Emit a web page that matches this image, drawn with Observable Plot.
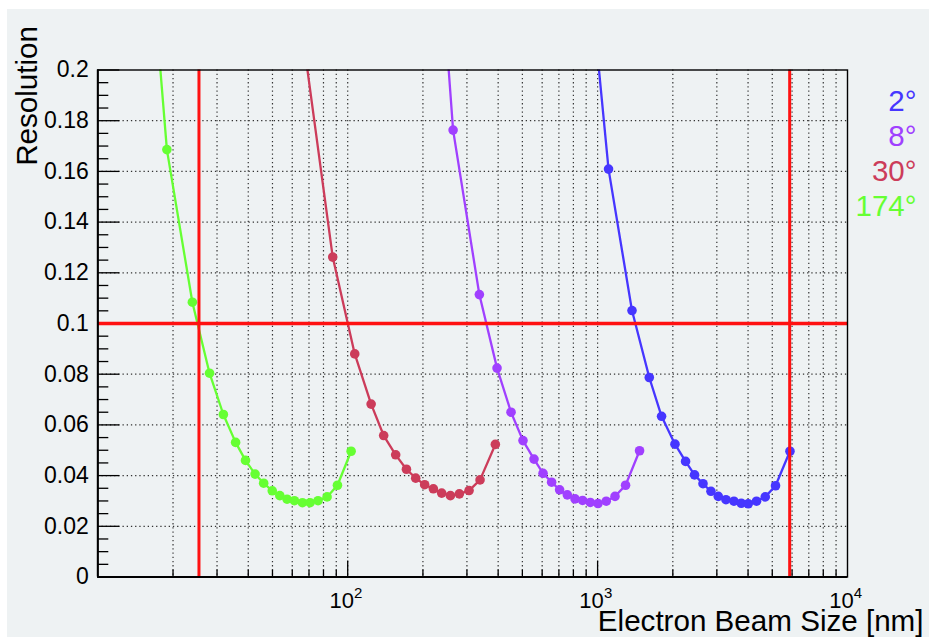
<!DOCTYPE html>
<html><head><meta charset="utf-8">
<script src="https://cdn.jsdelivr.net/npm/d3@7"></script>
<script src="https://cdn.jsdelivr.net/npm/@observablehq/plot@0.6"></script>
<style>
html,body{margin:0;padding:0;background:#fff;}
#wrap{position:relative;width:929px;height:637px;overflow:hidden;}
#bg{position:absolute;left:7px;top:9px;right:0;bottom:0;background:#eef2f3;}
#chart{position:absolute;left:0;top:0;}
</style></head><body>
<div id="wrap"><div id="bg"></div><div id="chart"></div></div>
<script>
// ---- data ----
const seriesNames = ["2°", "8°", "30°", "174°"];
const seriesColors = ["#4636ff", "#a040ff", "#cc3c5a", "#66ff33"];

const size2 = [877, 1106, 1373, 1610, 1803, 2040, 2249, 2443, 2641, 2842, 3040, 3263, 3512, 3757, 4007, 4325, 4687, 5152, 5885];
const res2  = [0.264, 0.1609, 0.1051, 0.0787, 0.0634, 0.0524, 0.0456, 0.0403, 0.0368, 0.0338, 0.0318, 0.0305, 0.0299, 0.0291, 0.0289, 0.0299, 0.0316, 0.0360, 0.0496];

const size8 = [210, 264.1, 336.4, 395.9, 450.4, 502.9, 556.6, 604.9, 654.6, 704.7, 756.4, 812.2, 871, 935, 1003.7, 1083, 1174, 1294, 1472];
const res8  = [0.31, 0.1763, 0.1114, 0.0824, 0.0650, 0.0538, 0.0465, 0.0409, 0.0374, 0.0344, 0.0324, 0.0308, 0.0302, 0.0294, 0.0290, 0.0299, 0.0318, 0.0362, 0.0498];

const size30 = [65, 87.1, 106.7, 124.1, 139.3, 155.6, 171.8, 187.1, 203.2, 220.2, 237.7, 257.6, 279.8, 305.9, 338.5, 389.8];
const res30  = [0.219, 0.1262, 0.0880, 0.0682, 0.0558, 0.0482, 0.0425, 0.0390, 0.0364, 0.0348, 0.0331, 0.0321, 0.0328, 0.0341, 0.0383, 0.0523];

const size174 = [15, 18.9, 23.9, 28.0, 31.8, 35.6, 39.0, 42.6, 46.1, 49.9, 53.5, 57.2, 61.2, 65.9, 70.7, 76.1, 82.7, 91.0, 103.2];
const res174  = [0.29, 0.1686, 0.1084, 0.0804, 0.0641, 0.0531, 0.0460, 0.0406, 0.0370, 0.0340, 0.0321, 0.0307, 0.0301, 0.0293, 0.0293, 0.0301, 0.0316, 0.0362, 0.0496];

const refX = [25.4, 5870];
const refY = [0.1];

const yTickValues = [0, 0.02, 0.04, 0.06, 0.08, 0.1, 0.12, 0.14, 0.16, 0.18, 0.2];
const yTickLabels = ["0", "0.02", "0.04", "0.06", "0.08", "0.1", "0.12", "0.14", "0.16", "0.18", "0.2"];
const xLabelValues = [100, 1000, 10000];
const xLabelBase = ["10", "10", "10"];
const xLabelExp = ["2", "3", "4"];
const xTitle = "Electron Beam Size [nm]";
const yTitle = "Resolution";

// ---- build table ----
const seriesData = [[size2, res2], [size8, res8], [size30, res30], [size174, res174]];
const rows = [];
seriesData.forEach(([s, r], i) => s.forEach((v, j) => rows.push({series: seriesNames[i], size: v, res: r[j]})));

const W = 929, H = 637, mL = 97.3, mR = 82, mT = 69.5, mB = 60.5;
const fw = W - mL - mR, fh = H - mT - mB;
const xGrid = d3.scaleLog().domain([10, 10000]).ticks().filter(d => d > 10 && d < 10000);
const xMajor = [100, 1000];
const xMinor = xGrid.filter(d => !xMajor.includes(d));
const yGrid = yTickValues.filter(d => d > 0 && d < 0.2);
const yMinor = d3.range(1, 40).filter(i => i % 4 !== 0).map(i => i * 0.005);

const font = "'Liberation Sans', Arial, Helvetica, sans-serif";
const gridStyle = {stroke: "#333", strokeDasharray: "1.3,2.9", strokeWidth: 1.2};

const chart = Plot.plot({
  width: W, height: H,
  marginLeft: mL, marginRight: mR, marginTop: mT, marginBottom: mB,
  style: {background: "transparent", fontFamily: font, overflow: "visible"},
  x: {type: "log", domain: [10, 10000], axis: null},
  y: {domain: [0, 0.2], axis: null},
  color: {domain: seriesNames, range: seriesColors},
  marks: [
    Plot.ruleX(xGrid, {x: d => d, ...gridStyle}),
    Plot.ruleY(yGrid, {y: d => d, ...gridStyle}),
    Plot.tickY(yMinor, {y: d => d, insetRight: fw - 11, stroke: "#000", strokeWidth: 1.3}),
    Plot.tickY(yTickValues, {y: d => d, insetRight: fw - 22, stroke: "#000", strokeWidth: 1.3}),
    Plot.tickX(xMinor, {x: d => d, insetTop: fh - 7, stroke: "#000", strokeWidth: 1.3}),
    Plot.tickX(xMajor, {x: d => d, insetTop: fh - 16, stroke: "#000", strokeWidth: 1.3}),
    Plot.line(rows, {x: "size", y: "res", z: "series", stroke: "series", strokeWidth: 2.3, clip: true}),
    Plot.dot(rows, {x: "size", y: "res", fill: "series", r: 4.8, clip: true}),
    Plot.ruleX(refX, {x: d => d, stroke: "#ff1111", strokeWidth: 3}),
    Plot.ruleY(refY, {y: d => d, stroke: "#ff1111", strokeWidth: 3.3}),
    Plot.frame({stroke: "#000", strokeWidth: 1.4}),
    Plot.ruleX([10], {x: d => d, stroke: "#000", strokeWidth: 2}),
    Plot.ruleY([0], {y: d => d, stroke: "#000", strokeWidth: 2}),
    Plot.text(yTickValues, {y: d => d, frameAnchor: "left", text: (d, i) => yTickLabels[i], textAnchor: "end", lineAnchor: "middle", dx: -9, fontSize: 23, fill: "#000"}),
    Plot.text(xLabelValues, {x: d => d, frameAnchor: "bottom", text: (d, i) => xLabelBase[i], textAnchor: "middle", lineAnchor: "middle", dx: -6, dy: 23.5, fontSize: 22, fill: "#000"}),
    Plot.text(xLabelValues, {x: d => d, frameAnchor: "bottom", text: (d, i) => xLabelExp[i], textAnchor: "middle", lineAnchor: "middle", dx: 10.5, dy: 16, fontSize: 15, fill: "#000"}),
    Plot.text([xTitle], {frameAnchor: "bottom-right", text: d => d, textAnchor: "end", lineAnchor: "bottom", dx: 76, dy: 54, fontSize: 29.6, fill: "#000"}),
    Plot.text([yTitle], {frameAnchor: "top-left", text: d => d, rotate: -90, textAnchor: "end", lineAnchor: "middle", dx: -70.3, dy: -44, fontSize: 29.6, fill: "#000"}),
    ...seriesNames.map((n, i) => Plot.text([n], {frameAnchor: "top-right", text: d => d, textAnchor: "end", lineAnchor: "bottom", dx: 69, dy: 40.5 + 35.2 * i, fontSize: 29.5, fill: seriesColors[i]}))
  ]
});
document.getElementById("chart").appendChild(chart);
</script>
</body></html>
